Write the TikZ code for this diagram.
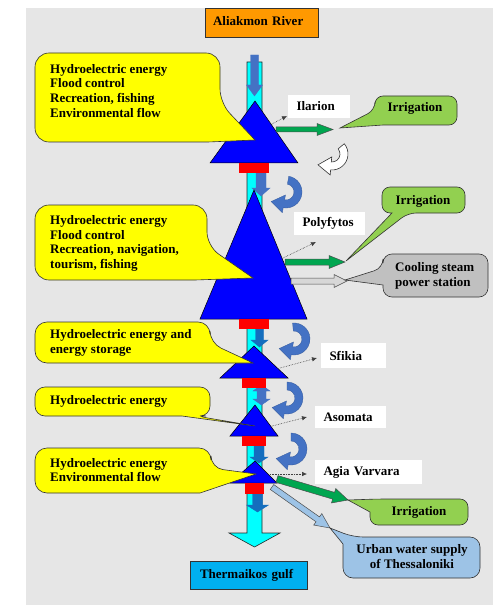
\documentclass[tikz,border=0pt]{standalone}
\usepackage{fontspec}
\setmainfont{Liberation Serif}
\usetikzlibrary{calc,arrows.meta}

\definecolor{bggray}{RGB}{230,230,230}
\definecolor{sourceorange}{RGB}{255,153,0}
\definecolor{rivercyan}{RGB}{0,255,255}
\definecolor{gulfblue}{RGB}{0,176,240}
\definecolor{damblue}{RGB}{0,0,255}
\definecolor{steel}{RGB}{68,114,196}
\definecolor{flowblue}{RGB}{20,110,190}
\definecolor{noteyellow}{RGB}{255,255,0}
\definecolor{irrgreen}{RGB}{146,208,80}
\definecolor{coolgray}{RGB}{192,192,192}
\definecolor{urbanblue}{RGB}{157,195,230}
\definecolor{arrowgreen}{RGB}{0,166,80}
\definecolor{arrowgray}{RGB}{215,215,215}

% straight block arrow: style, tail, tip, shaft half-width, head half-width, head length
\newcommand{\blockarr}[6]{%
  \coordinate (ba-h) at ($(#3)!#6!(#2)$);
  \filldraw[#1] ($(#2)!#4!90:(#3)$) -- ($(ba-h)!#4!90:(#3)$) -- ($(ba-h)!#5!90:(#3)$)
    -- (#3) -- ($(ba-h)!#5!-90:(#3)$) -- ($(ba-h)!#4!-90:(#3)$) -- ($(#2)!#4!-90:(#3)$) -- cycle;}

% bent (circular) arrow: style, centre, start angle, end angle, mid radius
\newcommand{\bentarr}[5]{%
  \pgfmathsetmacro{\bentout}{#5+4}%
  \pgfmathsetmacro{\bentin}{#5-4}%
  \pgfmathsetmacro{\bentheadout}{#5+9}%
  \pgfmathsetmacro{\bentheadin}{#5-9}%
  \pgfmathsetmacro{\bentdir}{#4+90}%
  \filldraw[#1] ($(#2)+(#3:\bentout)$) arc[start angle=#3, end angle=#4, radius=\bentout]
    -- ($(#2)+(#4:\bentheadout)$) -- ($(#2)+(#4:#5)+(\bentdir:13)$)
    -- ($(#2)+(#4:\bentheadin)$) -- ($(#2)+(#4:\bentin)$)
    arc[start angle=#4, end angle=#3, radius=\bentin] -- cycle;}

\begin{document}
\begin{tikzpicture}[x=1bp,y=-1bp,
  txt/.style={font=\fontsize{13bp}{14.7bp}\selectfont\bfseries, inner sep=0pt},
  damlabel/.style={txt, fill=white, inner xsep=8.5bp, align=left},
  outline/.style={draw=black!80, line width=0.6bp},
  dam/.style={fill=damblue, draw=black, line width=0.5bp},
  gate/.style={fill=red},
  swirl/.style={fill=steel, draw=steel!80!black, line width=0.3bp},
  dotarrow/.style={densely dotted, draw=black!75, line width=0.6bp, -{Latex[length=5bp,width=4.5bp]}}]

\useasboundingbox (0,0) rectangle (497,606);
\fill[bggray] (26,8) rectangle (493,605);

% source and mouth
\node[txt, outline, fill=sourceorange, minimum height=29bp, text width=97bp, inner xsep=8bp,
      text depth=3.5bp, align=left] (aliakmon) at (261.5,22.5) {Aliakmon River};
\node[txt, outline, fill=gulfblue, minimum height=28bp, text width=97bp, inner xsep=10bp,
      align=left] (thermaikos) at (248.5,575) {Thermaikos gulf};

% river course
\coordinate (river-top) at (254.5,62);
\coordinate (river-end) at (254.5,547);
\blockarr{fill=rivercyan, draw=black!85, line width=0.6bp}{river-top}{river-end}{7.5bp}{25.5bp}{14bp}

% flow arrows inside the river
\coordinate (f1a) at (254.5,55);  \coordinate (f1b) at (254.5,96);
\coordinate (f2a) at (261,173);   \coordinate (f2b) at (261,196);
\coordinate (f3a) at (259.5,329); \coordinate (f3b) at (259.5,347);
\coordinate (f5a) at (259,446);   \coordinate (f5b) at (259,463);
\coordinate (f6a) at (257.5,494); \coordinate (f6b) at (257.5,512);
\blockarr{fill=steel, draw=steel}{f1a}{f1b}{4bp}{8bp}{11bp}
\blockarr{fill=steel, draw=steel}{f2a}{f2b}{5bp}{9bp}{8bp}
\blockarr{fill=flowblue, draw=flowblue}{f3a}{f3b}{4bp}{8.5bp}{7bp}
\filldraw[fill=steel, draw=steel] (261.5,385) -- (270,391) -- (266,391) -- (266,399) -- (270,399)
  -- (261.5,405) -- (253,399) -- (257,399) -- (257,391) -- (253,391) -- cycle;
\blockarr{fill=flowblue, draw=flowblue}{f5a}{f5b}{5bp}{9bp}{6bp}
\blockarr{fill=flowblue, draw=flowblue}{f6a}{f6b}{5bp}{11bp}{7bp}

% dams
\filldraw[dam] (255,101) -- (298,163) -- (210,163) -- cycle;
\filldraw[dam] (254,190) -- (307,319) -- (200,319) -- cycle;
\filldraw[dam] (254,346) -- (288,378) -- (220,378) -- cycle;
\filldraw[dam] (255,405) -- (278,436) -- (230,436) -- cycle;
\filldraw[dam] (255,461) -- (277,483) -- (230,483) -- cycle;
\fill[gate] (239,163) rectangle (269,173);
\fill[gate] (239,319) rectangle (269,329);
\fill[gate] (242,378) rectangle (266,388);
\fill[gate] (242,436) rectangle (266,446);
\fill[gate] (245,483) rectangle (264,494);

% circular arrows between the reservoirs
\bentarr{swirl}{286,192}{-80}{100}{12}
\bentarr{swirl}{294,339}{-95}{100}{12}
\bentarr{swirl}{287,398}{-90}{100}{12}
\bentarr{swirl}{291,449}{-90}{100}{12}
\bentarr{fill=white, draw=black!80, line width=0.6bp}{332,154}{-40}{95}{12}

% water uses
\coordinate (il-out) at (276,129.5);  \coordinate (il-irr) at (333,129.5);
\coordinate (po-out) at (285,262);    \coordinate (po-irr) at (345,262);
\coordinate (po-gout) at (291,281);   \coordinate (po-cool) at (347,281);
\coordinate (av-out) at (277,479);    \coordinate (av-irr) at (348,500);
\coordinate (av-uout) at (272,487);   \coordinate (av-urb) at (330,528);
\blockarr{fill=arrowgreen, draw=black!70, line width=0.5bp}{il-out}{il-irr}{2.5bp}{6bp}{16bp}
\blockarr{fill=arrowgreen, draw=black!70, line width=0.5bp}{po-out}{po-irr}{3bp}{6.5bp}{16bp}
\blockarr{fill=arrowgray, draw=black!70, line width=0.5bp}{po-gout}{po-cool}{3bp}{6.5bp}{13bp}
\blockarr{fill=arrowgreen, draw=black!70, line width=0.5bp}{av-out}{av-irr}{3.5bp}{7.5bp}{15bp}
\blockarr{fill=urbanblue, draw=black!70, line width=0.5bp}{av-uout}{av-urb}{3bp}{7bp}{15bp}

% dam names
\node[damlabel, minimum height=23bp, text width=45bp] (ilarion) at (319,106.5) {Ilarion};
\node[damlabel, minimum height=23bp, text width=54bp] (polyfytos) at (329.5,223.5) {Polyfytos};
\node[damlabel, minimum height=25bp, text width=48bp] (sfikia) at (353.5,355.5) {Sfikia};
\node[damlabel, minimum height=22bp, text width=54bp] (asomata) at (350.5,417) {Asomata};
\node[damlabel, minimum height=24bp, text width=90bp] (agiavarvara) at (368.5,472) {Agia Varvara};

\coordinate (il-dot) at (272,124);  \coordinate (il-dotend) at (287,116);
\coordinate (po-dot) at (283,258);  \coordinate (po-dotend) at (316,242);
\coordinate (sf-dot) at (280,368);  \coordinate (sf-dotend) at (317,358);
\coordinate (as-dot) at (272,426);  \coordinate (as-dotend) at (307,417);
\coordinate (av-dot) at (270,474);  \coordinate (av-dotend) at (307,474);
\draw[dotarrow] (il-dot) -- (il-dotend);
\draw[dotarrow] (po-dot) -- (po-dotend);
\draw[dotarrow] (sf-dot) -- (sf-dotend);
\draw[dotarrow] (as-dot) -- (as-dotend);
\draw[dotarrow] (av-dot) -- (av-dotend);

% purpose callouts
\filldraw[outline, fill=noteyellow] (220,103) -- (255,140) -- (208,142) [rounded corners=14bp]
  -- (35,142) -- (35,53) -- (220,53) -- cycle;
\filldraw[outline, fill=noteyellow] (207,246) -- (253,278) -- (195,280) [rounded corners=14bp]
  -- (35,280) -- (35,205) -- (207,205) -- cycle;
\filldraw[outline, fill=noteyellow] (210,343) -- (253,363) -- (195,363) [rounded corners=12bp]
  -- (35,363) -- (35,322) -- (210,322) -- cycle;
\filldraw[outline, fill=noteyellow] (196,416) -- (255,426) -- (182,416) [rounded corners=10bp]
  -- (35,416) -- (35,387) -- (210,387) -- (210,416) -- cycle;
\filldraw[outline, fill=noteyellow] (211,468) -- (256,474) -- (200,493) [rounded corners=12bp]
  -- (35,493) -- (35,448) -- (211,448) -- cycle;

\node[txt, anchor=north west, align=left] (use-ilarion) at (50,63.9)
  {Hydroelectric energy\\Flood control\\Recreation, fishing\\Environmental flow};
\node[txt, anchor=north west, align=left] (use-polyfytos) at (50,215.2)
  {Hydroelectric energy\\Flood control\\Recreation, navigation,\\tourism, fishing};
\node[txt, anchor=north west, align=left] (use-sfikia) at (50,329.2)
  {Hydroelectric energy and\\energy storage};
\node[txt, anchor=north west, align=left] (use-asomata) at (50,395.2)
  {Hydroelectric energy};
\node[txt, anchor=north west, align=left] (use-agiavarvara) at (50,457.9)
  {Hydroelectric energy\\Environmental flow};

% demand callouts
\filldraw[outline, fill=irrgreen] (375,110) -- (340,128) -- (383,125) [rounded corners=8bp]
  -- (457,125) -- (457,96) -- (375,96) -- cycle;
\filldraw[outline, fill=irrgreen] (408,213) -- (346,261) -- (392,213) [rounded corners=8bp]
  -- (382,213) -- (382,187) -- (465,187) -- (465,213) -- cycle;
\filldraw[outline, fill=coolgray] (383,268) -- (345,280) -- (383,285) [rounded corners=9bp]
  -- (383,297) -- (488,297) -- (488,254) -- (383,254) -- cycle;
\filldraw[outline, fill=irrgreen] (378,499) -- (348,500) -- (370,512) [rounded corners=8bp]
  -- (370,525) -- (468,525) -- (468,499) -- cycle;
\filldraw[outline, fill=urbanblue] (353,537) -- (330,528) -- (343,544) [rounded corners=10bp]
  -- (343,578) -- (480,578) -- (480,537) -- cycle;

\node[txt, anchor=base] (irr-ilarion) at (415,112) {Irrigation};
\node[txt, anchor=base] (irr-polyfytos) at (423,204.3) {Irrigation};
\node[txt, anchor=north west, align=left] (cooling) at (395,262.2) {Cooling steam\\power station};
\node[txt, anchor=base] (irr-agiavarvara) at (419,515) {Irrigation};
\node[txt, anchor=north, align=center] (urban) at (412,544.5) {Urban water supply\\of Thessaloniki};
\end{tikzpicture}
\end{document}
